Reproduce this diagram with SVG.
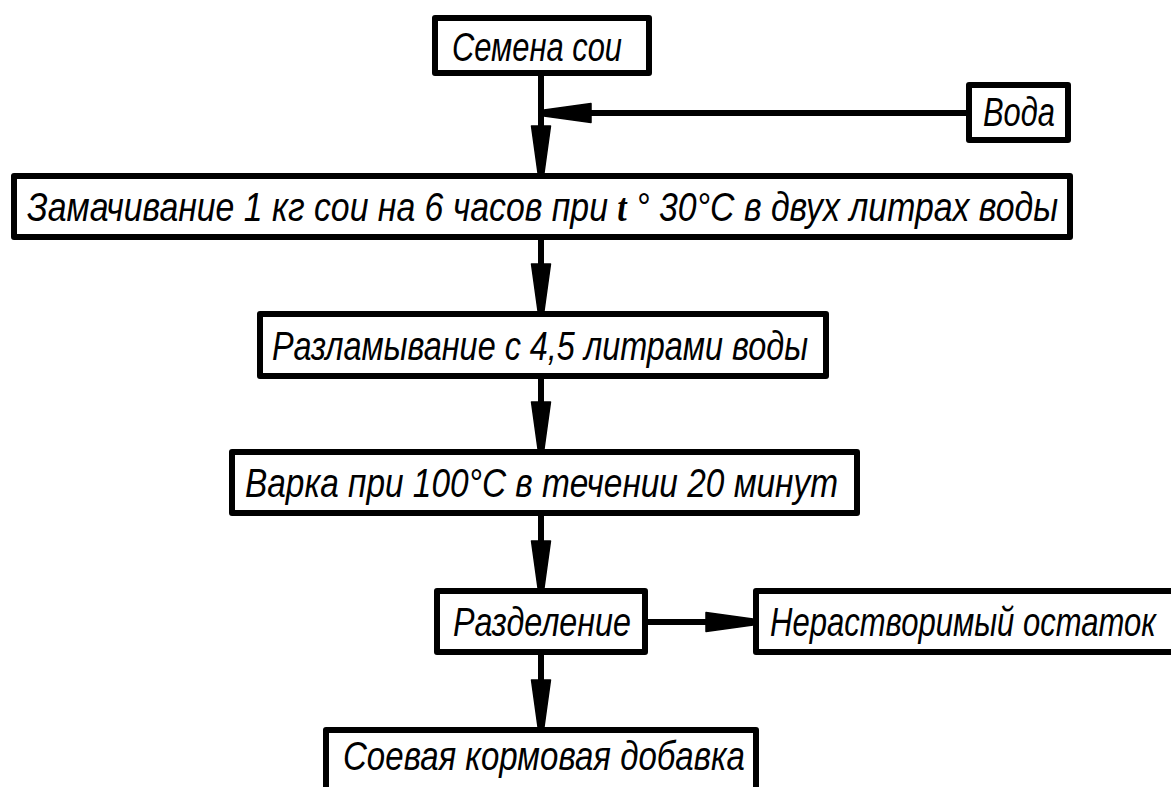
<svg xmlns="http://www.w3.org/2000/svg" xmlns:xlink="http://www.w3.org/1999/xlink" width="1171" height="787" viewBox="0 0 1171 787">
<style>
.box{fill:#fff;stroke:#000;stroke-width:6;stroke-linejoin:round}
.t{font-family:"Liberation Sans",Arial,sans-serif;font-style:italic;font-size:41px;fill:#000}
.tt{font-family:"Liberation Serif","Times New Roman",serif;font-style:italic;font-weight:bold}
.ln{stroke:#000;stroke-width:6;fill:none}
.ah{fill:#000;stroke:#000;stroke-width:1.5;stroke-linejoin:round}
</style>
<defs>
<path id="ah" class="ah" d="M-9.5,-47 L9.5,-47 L3,0 L-3,0 Z"/>
</defs>
<rect width="1171" height="787" fill="#fff"/>
<g id="connectors">
<line class="ln" x1="541" y1="76" x2="541" y2="172"/>
<line class="ln" x1="966" y1="113" x2="560" y2="113"/>
<line class="ln" x1="541" y1="240" x2="541" y2="300"/>
<line class="ln" x1="541" y1="379" x2="541" y2="440"/>
<line class="ln" x1="541" y1="516" x2="541" y2="578"/>
<line class="ln" x1="648" y1="622" x2="740" y2="622"/>
<line class="ln" x1="541" y1="655" x2="541" y2="716"/>
<use xlink:href="#ah" transform="translate(541,173)"/>
<use xlink:href="#ah" transform="translate(544,113) rotate(90)"/>
<use xlink:href="#ah" transform="translate(541,311)"/>
<use xlink:href="#ah" transform="translate(541,449)"/>
<use xlink:href="#ah" transform="translate(541,588)"/>
<use xlink:href="#ah" transform="translate(753,622) rotate(-90)"/>
<use xlink:href="#ah" transform="translate(541,727)"/>
</g>
<g id="n1">
<rect class="box" x="435" y="18" width="214" height="55"/>
<text class="t" x="452" y="61" textLength="170" lengthAdjust="spacingAndGlyphs">Семена сои</text>
</g>
<g id="n2">
<rect class="box" x="969" y="85" width="99" height="55"/>
<text class="t" x="983" y="126" textLength="72" lengthAdjust="spacingAndGlyphs">Вода</text>
</g>
<g id="n3">
<rect class="box" x="14" y="176" width="1056" height="61"/>
<text class="t" x="27" y="221" textLength="1031" lengthAdjust="spacingAndGlyphs">Замачивание 1 кг сои на 6 часов при <tspan class="tt">t</tspan> ° 30°С в двух литрах воды</text>
</g>
<g id="n4">
<rect class="box" x="260" y="314" width="566" height="62"/>
<text class="t" x="272" y="360" textLength="536" lengthAdjust="spacingAndGlyphs">Разламывание с 4,5 литрами воды</text>
</g>
<g id="n5">
<rect class="box" x="232" y="452" width="625" height="61"/>
<text class="t" x="245" y="497" textLength="593" lengthAdjust="spacingAndGlyphs">Варка при 100°С в течении 20 минут</text>
</g>
<g id="n6">
<rect class="box" x="437" y="591" width="208" height="61"/>
<text class="t" x="453" y="636" textLength="178" lengthAdjust="spacingAndGlyphs">Разделение</text>
</g>
<g id="n7">
<rect class="box" x="756" y="591" width="430" height="61"/>
<text class="t" x="770" y="636" textLength="386" lengthAdjust="spacingAndGlyphs">Нерастворимый остаток</text>
</g>
<g id="n8">
<rect class="box" x="326" y="730" width="430" height="70"/>
<text class="t" x="343" y="770" textLength="402" lengthAdjust="spacingAndGlyphs">Соевая кормовая добавка</text>
</g>
</svg>
